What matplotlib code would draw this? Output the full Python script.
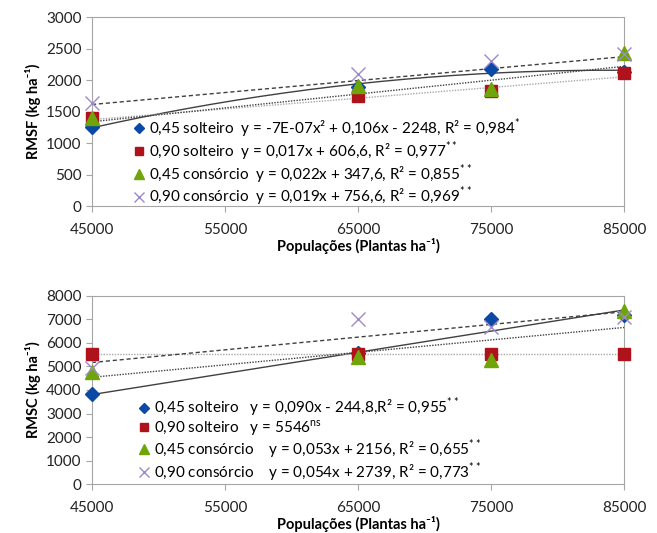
import numpy as np
import matplotlib
matplotlib.use("Agg")
import matplotlib.pyplot as plt

plt.rcParams["font.family"] = ["Lato", "DejaVu Sans"]
plt.rcParams["mathtext.fontset"] = "custom"
plt.rcParams["mathtext.rm"] = "Lato"
plt.rcParams["mathtext.bf"] = "Lato:bold"

pop = [45000, 65000, 75000, 85000]
xticks = [45000, 55000, 65000, 75000, 85000]

# RMSF (top)
rmsf_045_solt = [1250, 1890, 2175, 2130]
rmsf_090_solt = [1390, 1750, 1830, 2115]
rmsf_045_cons = [1400, 1905, 1850, 2430]
rmsf_090_cons = [1630, 2095, 2300, 2410]

# RMSC (bottom)
rmsc_045_solt = [3830, 5560, 7020, 7190]
rmsc_090_solt = [5530, 5530, 5530, 5530]
rmsc_045_cons = [4780, 5400, 5280, 7380]
rmsc_090_cons = [4940, 7020, 6690, 7120]

# fitted lines, coefficients as printed (slope, intercept); None -> quadratic fit
fit_top = [None, (0.017, 606.6), (0.022, 347.6), (0.019, 756.6)]
fit_bot = [(0.090, -244.8), (0.0, 5546), (0.053, 2156), (0.054, 2739)]

names = ["0,45 solteiro", "0,90 solteiro", "0,45 consórcio", "0,90 consórcio"]
eq_top = [
    "  y = -7E-07x² + 0,106x - 2248, R² = 0,984$^{*}$",
    "  y = 0,017x + 606,6, R² = 0,977$^{**}$",
    "  y = 0,022x + 347,6, R² = 0,855$^{**}$",
    "  y = 0,019x + 756,6, R² = 0,969$^{**}$",
]
eq_bot = [
    "   y = 0,090x - 244,8,R² = 0,955$^{**}$",
    "   y = 5546$^{\\rm ns}$",
    "    y = 0,053x + 2156, R² = 0,655$^{**}$",
    "    y = 0,054x + 2739, R² = 0,773$^{**}$",
]

markers = [
    dict(marker="D", color="#0A4AA6", ms=7),
    dict(marker="s", color="#B0121B", ms=9),
    dict(marker="^", color="#6FA50A", ms=10),
    dict(marker="x", color="#9C8ACB", ms=10, mew=1.0),
]
lines = [
    dict(color="#404040", ls="-", lw=1.0),
    dict(color="#A8A8A8", ls=(0, (1, 1)), lw=1.0),
    dict(color="#404040", ls=(0, (1, 1)), lw=1.0),
    dict(color="#404040", ls=(0, (3, 2)), lw=1.0),
]

fig = plt.figure(figsize=(6.57, 5.33), dpi=100)
ax1 = fig.add_axes([0.140, 0.6135, 0.810, 0.3545])
ax2 = fig.add_axes([0.140, 0.0919, 0.810, 0.3528])


def draw(ax, series, fits, eqs, ylim, yticks, ylabel, leg_anchor):
    xx = np.linspace(45000, 85000, 200)
    handles = []
    for i, ys in enumerate(series):
        if fits[i] is None:
            c = np.polyfit(pop, ys, 2)
            yy = np.polyval(c, xx)
        else:
            yy = fits[i][0] * xx + fits[i][1]
        ax.plot(xx, yy, zorder=2, **lines[i])
    for i, ys in enumerate(series):
        h, = ax.plot(pop, ys, ls="none", clip_on=False, zorder=3,
                     label=names[i] + eqs[i], **markers[i])
        handles.append(h)
    ax.set_xlim(45000, 85000)
    ax.set_ylim(*ylim)
    ax.set_xticks(xticks)
    ax.set_xticklabels([str(t) for t in xticks])
    ax.set_yticks(yticks)
    for s in ax.spines.values():
        s.set_color("#A6A6A6")
    ax.tick_params(colors="#A6A6A6", labelcolor="#222222", labelsize=11,
                   length=4)
    ax.tick_params(axis="x", pad=8)
    ax.set_ylabel(ylabel, fontsize=10.5, fontweight="bold", labelpad=4)
    ax.set_xlabel("Populações (Plantas ha⁻¹)", fontsize=10.5,
                  fontweight="bold", labelpad=1)
    ax.legend(handles=handles, loc="upper left", bbox_to_anchor=leg_anchor,
              frameon=False, fontsize=11, handlelength=0.9, markerscale=0.7,
              handletextpad=0.2, labelspacing=-0.05, borderaxespad=0,
              borderpad=0)


draw(ax1, [rmsf_045_solt, rmsf_090_solt, rmsf_045_cons, rmsf_090_cons],
     fit_top, eq_top, (0, 3000), range(0, 3001, 500),
     "RMSF (kg ha⁻¹)", (0.075, 0.475))
draw(ax2, [rmsc_045_solt, rmsc_090_solt, rmsc_045_cons, rmsc_090_cons],
     fit_bot, eq_bot, (0, 8000), range(0, 8001, 1000),
     "RMSC (kg ha⁻¹)", (0.085, 0.47))

fig.savefig("out.png", dpi=100)
